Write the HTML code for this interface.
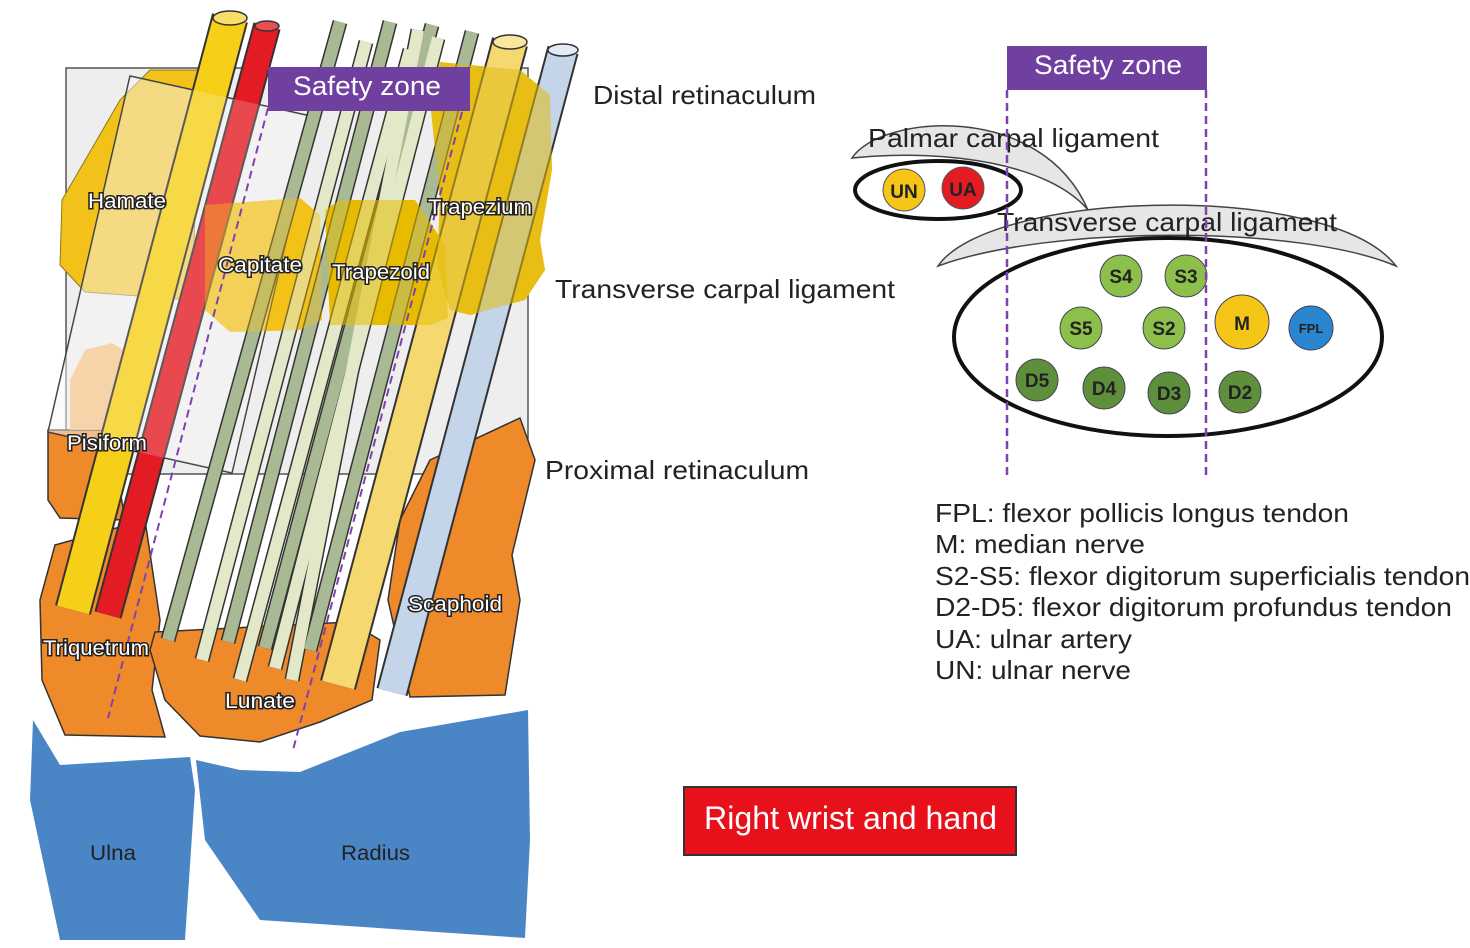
<!DOCTYPE html>
<html><head><meta charset="utf-8"><style>
html,body{margin:0;padding:0;background:#fff;}
svg{display:block;}
text{font-family:"Liberation Sans",Arial,sans-serif;}
.bl{fill:#fff;stroke:#222;stroke-width:3;paint-order:stroke;font-size:21px;}
</style></head><body>
<svg width="1470" height="948" viewBox="0 0 1470 948" xmlns="http://www.w3.org/2000/svg">
<rect x="66" y="68" width="462" height="406" fill="#eeeeee" stroke="#555" stroke-width="1.5"/>
<polygon points="33,720 60,765 190,757 195,790 185,940 60,940 30,800" fill="#4a86c6"/>
<polygon points="196,760 240,770 300,772 400,732 528,710 530,840 525,938 260,920 205,840" fill="#4a86c6"/>
<polygon points="48,430 110,430 125,520 60,518 48,500" fill="#ee8a2a" stroke="#333" stroke-width="1.5"/>
<polygon points="55,545 145,520 160,620 152,690 165,737 65,735 42,680 40,600" fill="#ee8a2a" stroke="#333" stroke-width="1.5"/>
<polygon points="155,632 350,622 380,640 372,700 320,722 260,742 200,736 165,700 150,650" fill="#ee8a2a" stroke="#333" stroke-width="1.5"/>
<polygon points="430,460 520,418 535,460 512,555 520,600 505,695 410,697 388,600 400,520" fill="#ee8a2a" stroke="#333" stroke-width="1.5"/>
<polygon points="62,200 120,100 150,70 200,70 192,300 85,292 60,265" fill="#f3c21a" stroke="#8a7a20" stroke-width="1"/>
<polygon points="205,205 300,198 320,215 322,320 300,330 230,332 205,310" fill="#f3c21a"/>
<polygon points="325,210 340,200 415,200 445,245 448,318 430,325 330,325" fill="#e6b800"/>
<polygon points="440,62 520,70 550,95 552,170 540,240 545,270 525,300 470,315 450,310 437,265 440,200 430,100" fill="#f3c21a"/>
<polygon points="130,76 315,117 232,473 48,432" fill="#f2f2f2" fill-opacity="0.35" stroke="#333" stroke-width="1.5"/>
<polygon points="70,380 85,350 112,343 140,360 130,430 70,430" fill="#f6c48a" opacity="0.9"/>
<line x1="230" y1="18" x2="73" y2="610" stroke="#333" stroke-width="37"/>
<line x1="230" y1="18" x2="73" y2="610" stroke="#f5cf18" stroke-width="33"/>
<ellipse cx="230" cy="18" rx="17" ry="7" fill="#f7df6a" stroke="#333" stroke-width="1.5"/>
<line x1="267" y1="26" x2="108" y2="615" stroke="#333" stroke-width="28"/>
<line x1="267" y1="26" x2="108" y2="615" stroke="#e31c24" stroke-width="24"/>
<ellipse cx="267" cy="26" rx="12" ry="5" fill="#e85050" stroke="#333" stroke-width="1.5"/>
<polygon points="130,76 315,117 232,473 48,432" fill="#ffffff" fill-opacity="0.2"/>
<g stroke-linecap="butt">
<g stroke="#333" stroke-width="15">
<line x1="340" y1="22" x2="168" y2="640"/>
<line x1="366" y1="42" x2="202" y2="660"/>
<line x1="390" y1="22" x2="228" y2="642"/>
<line x1="410" y1="50" x2="240" y2="680"/>
<line x1="432" y1="25" x2="265" y2="648"/>
<line x1="438" y1="38" x2="275" y2="668"/>
<line x1="472" y1="32" x2="310" y2="650"/>
<line x1="418" y1="30" x2="292" y2="680"/>
</g>
<line x1="340" y1="22" x2="168" y2="640" stroke="#a9b994" stroke-width="12"/>
<line x1="366" y1="42" x2="202" y2="660" stroke="#e3e8c8" stroke-width="12"/>
<line x1="390" y1="22" x2="228" y2="642" stroke="#a9b994" stroke-width="12"/>
<line x1="410" y1="50" x2="240" y2="680" stroke="#e3e8c8" stroke-width="12"/>
<line x1="432" y1="25" x2="265" y2="648" stroke="#a9b994" stroke-width="12"/>
<line x1="438" y1="38" x2="275" y2="668" stroke="#e3e8c8" stroke-width="12"/>
<line x1="472" y1="32" x2="310" y2="650" stroke="#a9b994" stroke-width="12"/>
<line x1="418" y1="30" x2="292" y2="680" stroke="#e3e8c8" stroke-width="12"/>
</g>
<line x1="510" y1="42" x2="338" y2="685" stroke="#333" stroke-width="37"/>
<line x1="510" y1="42" x2="338" y2="685" stroke="#f6d870" stroke-width="33"/>
<ellipse cx="510" cy="42" rx="17" ry="7" fill="#f9e7a0" stroke="#333" stroke-width="1.5"/>
<line x1="563" y1="50" x2="392" y2="692" stroke="#333" stroke-width="32"/>
<line x1="563" y1="50" x2="392" y2="692" stroke="#c4d5ea" stroke-width="28"/>
<ellipse cx="563" cy="50" rx="15" ry="6" fill="#e2ebf5" stroke="#333" stroke-width="1.5"/>
<polygon points="440,62 520,70 550,95 552,170 540,240 545,270 525,300 470,315 450,310 437,265 440,200 430,100" fill="#e0bc10" opacity="0.55"/>
<polygon points="325,210 340,200 415,200 445,245 448,318 430,325 330,325" fill="#e6be00" opacity="0.55"/>
<polygon points="205,205 300,198 320,215 322,320 300,330 230,332 205,310" fill="#f3c21a" opacity="0.4"/>
<line x1="268" y1="108" x2="108" y2="718" stroke="#8040b0" stroke-width="2" stroke-dasharray="8,5"/>
<line x1="462" y1="112" x2="293" y2="750" stroke="#8040b0" stroke-width="2" stroke-dasharray="8,5"/>
<rect x="268" y="67" width="202" height="44" fill="#7040a0"/>
<text x="293" y="95" font-size="27" fill="#fff" textLength="148" lengthAdjust="spacingAndGlyphs">Safety zone</text>
<text class="bl" x="88" y="208" textLength="78" lengthAdjust="spacingAndGlyphs">Hamate</text>
<text class="bl" x="218" y="272" textLength="84" lengthAdjust="spacingAndGlyphs">Capitate</text>
<text class="bl" x="332" y="279" textLength="98" lengthAdjust="spacingAndGlyphs">Trapezoid</text>
<text class="bl" x="428" y="214" textLength="104" lengthAdjust="spacingAndGlyphs">Trapezium</text>
<text class="bl" x="67" y="450" textLength="80" lengthAdjust="spacingAndGlyphs">Pisiform</text>
<text class="bl" x="43" y="655" textLength="106" lengthAdjust="spacingAndGlyphs">Triquetrum</text>
<text class="bl" x="225" y="708" textLength="70" lengthAdjust="spacingAndGlyphs">Lunate</text>
<text class="bl" x="408" y="611" textLength="94" lengthAdjust="spacingAndGlyphs">Scaphoid</text>
<text x="90" y="860" font-size="21" fill="#222" textLength="46" lengthAdjust="spacingAndGlyphs">Ulna</text>
<text x="341" y="860" font-size="21" fill="#222" textLength="69" lengthAdjust="spacingAndGlyphs">Radius</text>
<text x="593" y="104" font-size="26" fill="#222" textLength="223" lengthAdjust="spacingAndGlyphs">Distal retinaculum</text>
<text x="555" y="298" font-size="26" fill="#222" textLength="340" lengthAdjust="spacingAndGlyphs">Transverse carpal ligament</text>
<text x="545" y="479" font-size="26" fill="#222" textLength="264" lengthAdjust="spacingAndGlyphs">Proximal retinaculum</text>

<rect x="1007" y="46" width="200" height="44" fill="#7040a0"/>
<text x="1034" y="74" font-size="27" fill="#fff" textLength="148" lengthAdjust="spacingAndGlyphs">Safety zone</text>
<path d="M852,158 C880,115 1040,100 1088,210 C1050,165 950,148 852,158 Z" fill="#e6e6e6" stroke="#444" stroke-width="1.5"/>
<ellipse cx="938" cy="190" rx="83" ry="29" fill="#fff" stroke="#111" stroke-width="4"/>
<circle cx="904" cy="190" r="21" fill="#f5c518" stroke="#555" stroke-width="1"/>
<circle cx="963" cy="188" r="21" fill="#e31c24" stroke="#555" stroke-width="1"/>
<text x="904" y="198" font-size="19" font-weight="bold" fill="#222" text-anchor="middle">UN</text>
<text x="963" y="196" font-size="19" font-weight="bold" fill="#222" text-anchor="middle">UA</text>
<text x="868" y="147" font-size="26" fill="#222" textLength="291" lengthAdjust="spacingAndGlyphs">Palmar carpal ligament</text>
<path d="M938,266 C990,190 1330,180 1396,266 C1300,225 1050,225 938,266 Z" fill="#e6e6e6" stroke="#444" stroke-width="1.5"/>
<ellipse cx="1168" cy="337" rx="214" ry="99" fill="none" stroke="#111" stroke-width="4"/>
<text x="997" y="231" font-size="26" fill="#222" textLength="340" lengthAdjust="spacingAndGlyphs">Transverse carpal ligament</text>
<g font-size="19" font-weight="bold" fill="#222" text-anchor="middle">
<circle cx="1121" cy="276" r="21" fill="#8dc04a" stroke="#445" stroke-width="1"/>
<circle cx="1186" cy="276" r="21" fill="#8dc04a" stroke="#445" stroke-width="1"/>
<circle cx="1081" cy="328" r="21" fill="#8dc04a" stroke="#445" stroke-width="1"/>
<circle cx="1164" cy="328" r="21" fill="#8dc04a" stroke="#445" stroke-width="1"/>
<circle cx="1242" cy="322" r="27" fill="#f5c518" stroke="#445" stroke-width="1"/>
<circle cx="1311" cy="328" r="22" fill="#2a86d0" stroke="#445" stroke-width="1"/>
<circle cx="1037" cy="380" r="21" fill="#5e8f3a" stroke="#445" stroke-width="1"/>
<circle cx="1104" cy="388" r="21" fill="#5e8f3a" stroke="#445" stroke-width="1"/>
<circle cx="1169" cy="393" r="21" fill="#5e8f3a" stroke="#445" stroke-width="1"/>
<circle cx="1240" cy="392" r="21" fill="#5e8f3a" stroke="#445" stroke-width="1"/>
<text x="1121" y="283">S4</text><text x="1186" y="283">S3</text>
<text x="1081" y="335">S5</text><text x="1164" y="335">S2</text>
<text x="1242" y="330">M</text><text x="1311" y="333" font-size="13">FPL</text>
<text x="1037" y="387">D5</text><text x="1104" y="395">D4</text>
<text x="1169" y="400">D3</text><text x="1240" y="399">D2</text>
</g>
<line x1="1007" y1="90" x2="1007" y2="475" stroke="#8040b0" stroke-width="2.5" stroke-dasharray="8,5"/>
<line x1="1206" y1="90" x2="1206" y2="475" stroke="#8040b0" stroke-width="2.5" stroke-dasharray="8,5"/>
<g font-size="26" fill="#222" lengthAdjust="spacingAndGlyphs">
<text x="935" y="522" textLength="414" lengthAdjust="spacingAndGlyphs">FPL: flexor pollicis longus tendon</text>
<text x="935" y="553" textLength="210" lengthAdjust="spacingAndGlyphs">M: median nerve</text>
<text x="935" y="585" textLength="535" lengthAdjust="spacingAndGlyphs">S2-S5: flexor digitorum superficialis tendon</text>
<text x="935" y="616" textLength="517" lengthAdjust="spacingAndGlyphs">D2-D5: flexor digitorum profundus tendon</text>
<text x="935" y="648" textLength="197" lengthAdjust="spacingAndGlyphs">UA: ulnar artery</text>
<text x="935" y="679" textLength="196" lengthAdjust="spacingAndGlyphs">UN: ulnar nerve</text>
</g>
<rect x="684" y="787" width="332" height="68" fill="#e8101a" stroke="#333" stroke-width="2"/>
<text x="704" y="829" font-size="32" fill="#fff" textLength="293" lengthAdjust="spacingAndGlyphs">Right wrist and hand</text>
</svg>
</body></html>
